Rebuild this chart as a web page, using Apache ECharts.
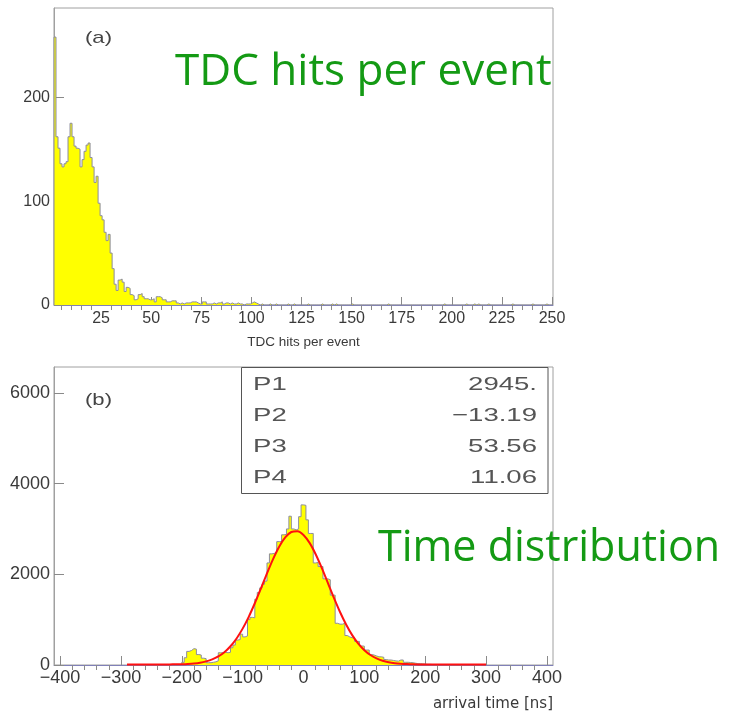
<!DOCTYPE html>
<html><head><meta charset="utf-8">
<script src="https://cdn.jsdelivr.net/npm/echarts@6/dist/echarts.min.js"></script>
<style>html,body{margin:0;padding:0;background:#fff}#c{width:731px;height:711px}</style>
</head><body><div id="c"></div>
<script>
// ---------- (a) TDC hits per event : bins of width 1 centred on integers ----------
const hitsFirstBin = 2;
const hitsCounts = [258,162,151,136,133,136,138,162,175,162,153,151,150,133,140,148,154,156,142,133,
  118,124,98,86,82,70,62,68,50,35,20,14,24,25,22,13,17,16,10,9,5,6,10,11,8,6,6,5,5,6,3,8,8,7,5,5,3,3,
  4,4,4,2,1,2,1,2,2,2,3,3,3,2,1,1,3,3,1,1,1,2,1,2,2,3,1,2,2,1,2,1,1,2,1,1,0,1,1,1,2,3,2,1,0,1];
const hitsSparse = [[109,1],[112,1],[118,1],[121,1],[128,1],[135,1],[140,1],[142,1],[150,1],[168,1],
  [196,1],[207,1],[211,1],[213,1],[218,1],[230,1],[240,1],[247,1]];
const hitsLastBin = 250;
const hitsMajorTicks = [25,50,75,100,125,150,175,200,225,250];
const hitsYTicks = [0,100,200];

// ---------- (b) arrival time : bins of 4 ns starting at -220 ----------
const timeFirstEdge = -220;
const timeBinWidth = 4;
const timeCounts = [0,0,0,5,10,60,160,300,320,360,350,230,220,150,140,50,50,60,70,90,
  270,270,280,270,280,380,440,550,560,680,620,640,1000,1050,1040,1450,1600,1700,1780,1850,
  2250,2450,2460,2500,2720,2720,2870,2880,3000,3280,3000,2980,3000,3270,3530,3520,3200,2900,2900,2250,
  2260,2170,2170,1900,1900,1880,1540,1540,920,900,900,920,650,620,600,600,520,520,420,415,
  330,330,230,220,200,180,180,170,120,110,110,100,90,85,110,110,60,60,55,50,
  40,30,30,25,20,15,15,10,10,5,5,0,3,0,0,2,0,0,0,0];
const fitX = [-290,-280,-270,-260,-250,-240,-230,-220,-210,-200,-190,-180,-170,-160,-150,-140,-130,-120,-110,-100,
  -90,-80,-70,-60,-50,-40,-30,-20,-10,0,10,20,30,40,50,60,70,80,90,100,
  110,120,130,140,150,160,170,180,190,200,210,220,230,240,250,260,270,280,290,300];
const fitY = [11,11,11,11,11,11,12,13,15,18,24,34,51,80,123,189,283,414,585,802,
  1062,1361,1686,2021,2336,2609,2815,2932,2951,2868,2692,2442,2139,1809,1479,1168,893,659,471,327,
  220,145,94,60,39,27,20,15,13,12,11.5,11,11,11,11,11,11,11,11,11];
const timeMajorTicks = [-400,-300,-200,-100,0,100,200,300,400];
const timeYTicks = [0,2000,4000,6000];
const fitParams = [['P1','2945.'],['P2','\u221213.19'],['P3','53.56'],['P4','11.06']];

// ---------- helpers ----------
function stepPoints(firstEdge, w, counts){
  const pts = [[firstEdge,0]];
  counts.forEach((c,i)=>{ const x0 = firstEdge + i*w; pts.push([x0,c],[x0+w,c]); });
  pts.push([firstEdge + counts.length*w, 0]);
  return pts;
}
const hitsAll = [];
for (let b = hitsFirstBin; b <= hitsLastBin; b++) {
  const i = b - hitsFirstBin;
  hitsAll.push(i < hitsCounts.length ? hitsCounts[i] : 0);
}
hitsSparse.forEach(([b,c]) => { hitsAll[b - hitsFirstBin] = c; });

function minorList(a,b,step,majors){ const r=[]; for(let v=a; v<=b; v+=step){ if(!majors.includes(v)) r.push(v);} return r; }
const plain = v => String(v).replace('-', '\u2212');

const tickColor = '#8a8a8a', frameColor = '#a0a0a0', baseColor = '#8080b8', labelColor = '#3a3a3a';
const lblFont = 'Liberation Sans';

const chart = echarts.init(document.getElementById('c'), null, {renderer:'canvas'});
chart.setOption({
  animation:false,
  backgroundColor:'#fff',
  grid:[
    {left:54, top:8, width:499, height:297, show:true, borderColor:frameColor, borderWidth:1},
    {left:54, top:367, width:499, height:298, show:true, borderColor:frameColor, borderWidth:1}
  ],
  xAxis:[
    {type:'value', gridIndex:0, min:1.5, max:250.5,
     axisLine:{show:true, onZero:false, lineStyle:{color:baseColor, width:1}},
     axisTick:{show:true, inside:true, length:8, customValues:hitsMajorTicks, lineStyle:{color:tickColor}},
     axisLabel:{customValues:hitsMajorTicks, fontSize:16, color:labelColor, fontFamily:lblFont, margin:6, formatter:plain},
     splitLine:{show:false},
     name:'TDC hits per event', nameLocation:'middle', nameGap:30,
     nameTextStyle:{fontSize:13.5, color:labelColor, fontFamily:lblFont}},
    {type:'value', gridIndex:0, min:1.5, max:250.5,
     axisLine:{show:false},
     axisTick:{show:true, inside:true, length:5, customValues:minorList(5,250,5,hitsMajorTicks), lineStyle:{color:tickColor}},
     axisLabel:{show:false}, splitLine:{show:false}},
    {type:'value', gridIndex:1, min:-410, max:410,
     axisLine:{show:true, onZero:false, lineStyle:{color:baseColor, width:1}},
     axisTick:{show:true, inside:true, length:9, customValues:timeMajorTicks, lineStyle:{color:tickColor}},
     axisLabel:{customValues:timeMajorTicks, fontSize:18, color:labelColor, fontFamily:lblFont, margin:4, formatter:plain},
     splitLine:{show:false}},
    {type:'value', gridIndex:1, min:-410, max:410,
     axisLine:{show:false},
     axisTick:{show:true, inside:true, length:5, customValues:minorList(-400,400,20,timeMajorTicks), lineStyle:{color:tickColor}},
     axisLabel:{show:false}, splitLine:{show:false}}
  ],
  yAxis:[
    {type:'value', gridIndex:0, min:0, max:286,
     axisLine:{show:true, onZero:false, lineStyle:{color:frameColor}},
     axisTick:{show:true, inside:true, length:10, customValues:hitsYTicks, lineStyle:{color:tickColor}},
     axisLabel:{customValues:hitsYTicks, fontSize:16, color:labelColor, fontFamily:lblFont, margin:4, formatter:plain},
     splitLine:{show:false}},
    {type:'value', gridIndex:1, min:0, max:6570,
     axisLine:{show:true, onZero:false, lineStyle:{color:frameColor}},
     axisTick:{show:true, inside:true, length:10, customValues:timeYTicks, lineStyle:{color:tickColor}},
     axisLabel:{customValues:timeYTicks, fontSize:18, color:labelColor, fontFamily:lblFont, margin:4, formatter:plain},
     splitLine:{show:false}}
  ],
  series:[
    {type:'line', xAxisIndex:0, yAxisIndex:0, data:stepPoints(hitsFirstBin-0.5, 1, hitsAll),
     symbol:'none', lineStyle:{color:'#8c8c9c', width:1},
     areaStyle:{color:'#ffff00', opacity:1}, z:2},
    {type:'line', xAxisIndex:2, yAxisIndex:1, data:stepPoints(timeFirstEdge, timeBinWidth, timeCounts),
     symbol:'none', lineStyle:{color:'#8c8c9c', width:1},
     areaStyle:{color:'#ffff00', opacity:1}, z:2},
    {type:'line', xAxisIndex:2, yAxisIndex:1, data:fitX.map((x,i)=>[x,fitY[i]]),
     symbol:'none', smooth:0.3, lineStyle:{color:'#ff1010', width:2}, z:3}
  ],
  graphic:[
    {type:'text', x:85, y:38, scaleX:1.3, style:{text:'(a)', font:'17px '+lblFont, fill:'#444', verticalAlign:'middle'}},
    {type:'text', x:85, y:400, scaleX:1.3, style:{text:'(b)', font:'17px '+lblFont, fill:'#444', verticalAlign:'middle'}},
    {type:'text', left:175, top:50, style:{text:'TDC hits per event', font:'44px "Open Sans"', fill:'#149a14'}},
    {type:'text', left:378, top:527, style:{text:'Time distribution', font:'43px "Open Sans"', fill:'#149a14'}},
    {type:'text', right:178, top:697, style:{text:'arrival time [ns]', font:'15px "DejaVu Sans"', fill:labelColor}},
    {type:'rect', shape:{x:241.5, y:367.5, width:306.5, height:126}, style:{fill:'#fff', stroke:'#555', lineWidth:1}, z:10},
    ...fitParams.flatMap(([k,v],i)=>[
      {type:'text', x:253, y:385+i*31, scaleX:1.45, z:11, style:{text:k, font:'19px '+lblFont, fill:'#555', verticalAlign:'middle'}},
      {type:'text', x:537, y:385+i*31, scaleX:1.45, z:11, style:{text:v, font:'19px '+lblFont, fill:'#555', align:'right', verticalAlign:'middle'}}
    ])
  ]
});
</script></body></html>
